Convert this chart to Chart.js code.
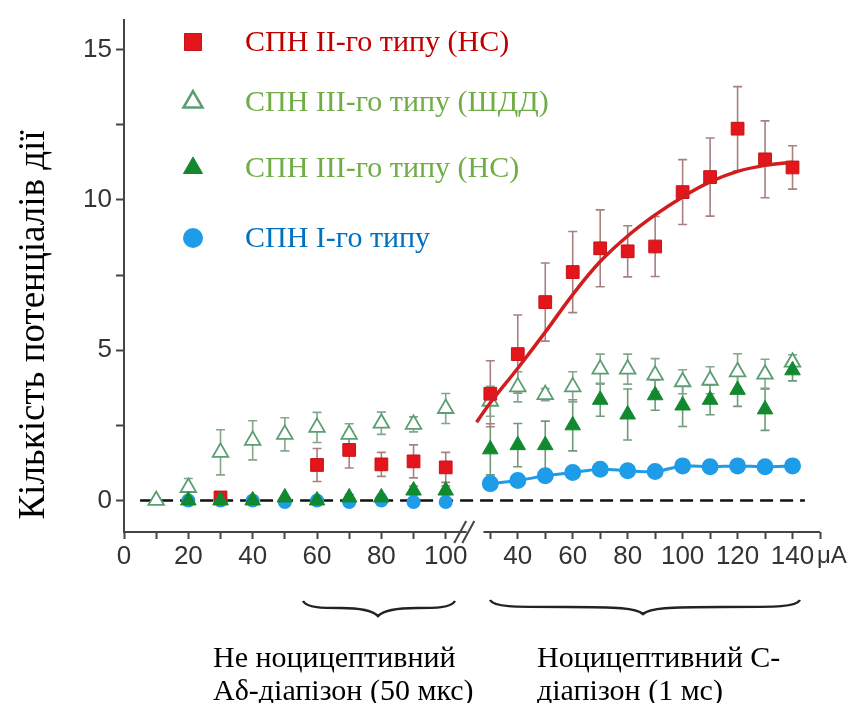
<!DOCTYPE html>
<html lang="uk">
<head>
  <meta charset="UTF-8" />
  <title>СПН</title>
  <script src="https://cdn.jsdelivr.net/npm/chart.js"></script>
  <style>
    html, body { margin: 0; padding: 0; background: #fff; }
    #wrap { width: 851px; height: 703px; position: relative; }
  </style>
</head>
<body>
  <div id="wrap"><canvas id="grafica"></canvas></div>

  <script>
    // Струм стимулу (µA): Aδ-діапазон (50 мкс) та C-діапазон (1 мс)
    const xA = [10, 20, 30, 40, 50, 60, 70, 80, 90, 100];
    const xC = [30, 40, 50, 60, 70, 80, 90, 100, 110, 120, 130, 140];

    // СПН II-го типу (НС)
    const redA    = [null, null, 0.1, null, null, 1.18, 1.68, 1.2, 1.3, 1.1];
    const redAErr = [null, null, 0, null, null, 0.55, 0.6, 0.4, 0.55, 0.5];
    const redC    = [3.55, 4.87, 6.6, 7.6, 8.39, 8.29, 8.45, 10.26, 10.76, 12.37, 11.35, 11.08];
    const redCErr = [1.1, 1.3, 1.3, 1.35, 1.28, 0.85, 1.0, 1.08, 1.3, 1.4, 1.28, 0.72];

    // апроксимація для СПН II-го типу (зчитано з кривої)
    const fitX = [25, 30, 40, 50, 60, 70, 80, 90, 100, 110, 120, 130, 140];
    const fitY = [2.6, 3.25, 4.4, 5.6, 6.85, 7.95, 8.8, 9.5, 10.1, 10.6, 10.95, 11.15, 11.25];

    // СПН III-го типу (ШДД)
    const openA    = [0, 0.43, 1.6, 2.0, 2.2, 2.43, 2.2, 2.57, 2.53, 3.06];
    const openAErr = [0, 0.3, 0.75, 0.65, 0.55, 0.5, 0.35, 0.37, 0.25, 0.5];
    const openC    = [3.3, 3.78, 3.52, 3.78, 4.37, 4.37, 4.17, 3.95, 4.0, 4.28, 4.2, 4.6];
    const openCErr = [0.5, 0.5, 0.2, 0.5, 0.5, 0.5, 0.55, 0.4, 0.45, 0.6, 0.5, 0.25];

    // СПН III-го типу (НС)
    const fillA    = [null, 0, 0, 0, 0.1, 0, 0.1, 0.1, 0.33, 0.33];
    const fillAErr = [null, 0, 0, 0, 0, 0, 0.1, 0.1, 0.15, 0.15];
    const fillC    = [1.7, 1.84, 1.84, 2.5, 3.35, 2.86, 3.5, 3.16, 3.35, 3.68, 3.03, 4.33];
    const fillCErr = [0.85, 0.72, 0.8, 0.85, 0.55, 0.85, 0.5, 0.7, 0.5, 0.55, 0.7, 0.35];

    // СПН I-го типу
    const blueA = [null, 0, 0, 0, -0.05, 0, -0.05, 0, -0.05, -0.05];
    const blueC = [0.56, 0.66, 0.82, 0.93, 1.04, 0.99, 0.96, 1.15, 1.12, 1.15, 1.12, 1.15];

    // підписи осей
    const yTicks = [0, 2.5, 5, 7.5, 10, 12.5, 15];
    const xTicksA = [0, 10, 20, 30, 40, 50, 60, 70, 80, 90, 100];
    const xTicksC = [30, 40, 50, 60, 70, 80, 90, 100, 110, 120, 130, 140, 150];
    const xLabelsA = [0, 20, 40, 60, 80, 100];
    const xLabelsC = [40, 60, 80, 100, 120, 140];

    const legendItems = [
      { text: 'СПН II-го типу (НС)', color: '#c00000' },
      { text: 'СПН III-го типу (ШДД)', color: '#70ad47' },
      { text: 'СПН III-го типу (НС)', color: '#70ad47' },
      { text: 'СПН I-го типу', color: '#0070c0' }
    ];

    // розрив осі: обидва діапазони на одній шкалі
    function posA(x) { return x; }
    function posC(x) { return 122.4 + (x - 40) * 0.854; }

    function pts(xs, ys, pos) {
      const out = [];
      xs.forEach((x, i) => { if (ys[i] !== null) out.push({ x: pos(x), y: ys[i] }); });
      return out;
    }

    const xTickList = [];
    xTicksA.forEach(v => xTickList.push({ value: posA(v), label: xLabelsA.includes(v) ? String(v) : '' }));
    xTicksC.forEach(v => xTickList.push({ value: posC(v), label: xLabelsC.includes(v) ? String(v) : '' }));

    const cRed = '#e3161c', cOpen = '#5a9e72', cFill = '#12892f', cBlue = '#1e9ce8';

    const datasets = [
      { label: 'fit', data: pts(fitX, fitY, posC), showLine: true, pointRadius: 0,
        borderColor: '#d01e1e', borderWidth: 3.5, tension: 0.4 },
      { data: pts(xA, fillA, posA), err: fillAErr, errColor: '#6f9a7a',
        pointStyle: 'triangle', pointRadius: 9, backgroundColor: cFill, borderColor: cFill, borderWidth: 1 },
      { data: pts(xC, fillC, posC), err: fillCErr, errColor: '#6f9a7a',
        pointStyle: 'triangle', pointRadius: 9, backgroundColor: cFill, borderColor: cFill, borderWidth: 1 },
      { data: pts(xA, redA, posA), err: redAErr, errColor: '#a88080',
        pointStyle: 'rect', pointRadius: 9, backgroundColor: cRed, borderColor: '#c81018', borderWidth: 1 },
      { data: pts(xC, redC, posC), err: redCErr, errColor: '#a88080',
        pointStyle: 'rect', pointRadius: 9, backgroundColor: cRed, borderColor: '#c81018', borderWidth: 1 },
      { data: pts(xA, openA, posA), err: openAErr, errColor: '#85a58e',
        pointStyle: 'triangle', pointRadius: 9, backgroundColor: '#ffffff', borderColor: cOpen, borderWidth: 1.8 },
      { data: pts(xC, openC, posC), err: openCErr, errColor: '#85a58e',
        pointStyle: 'triangle', pointRadius: 9, backgroundColor: '#ffffff', borderColor: cOpen, borderWidth: 1.8 },
      { data: pts(xA, blueA, posA), pointStyle: 'circle', pointRadius: 7,
        backgroundColor: cBlue, borderColor: cBlue, borderWidth: 0 },
      { data: pts(xC, blueC, posC), showLine: true, tension: 0.3, pointStyle: 'circle', pointRadius: 7,
        backgroundColor: cBlue, borderColor: cBlue, borderWidth: 3 },
      { data: [{ x: posA(5), y: 0 }, { x: posC(144.5), y: 0 }], showLine: true, pointRadius: 0,
        borderColor: '#111', borderWidth: 2.5, borderDash: [13, 7] }
    ];

    const errorBars = {
      id: 'errorBars',
      beforeDatasetsDraw(chart) {
        const ctx = chart.ctx, xs = chart.scales.x, ys = chart.scales.y;
        ctx.save();
        chart.data.datasets.forEach(ds => {
          if (!ds.err) return;
          const errs = ds.err.filter(e => e !== null);
          ctx.strokeStyle = ds.errColor;
          ctx.lineWidth = 1.6;
          ds.data.forEach((p, i) => {
            const e = errs[i];
            if (!e) return;
            const px = xs.getPixelForValue(p.x);
            const top = ys.getPixelForValue(p.y + e), bot = ys.getPixelForValue(p.y - e);
            ctx.beginPath();
            ctx.moveTo(px, top); ctx.lineTo(px, bot);
            ctx.moveTo(px - 4.5, top); ctx.lineTo(px + 4.5, top);
            ctx.moveTo(px - 4.5, bot); ctx.lineTo(px + 4.5, bot);
            ctx.stroke();
          });
        });
        ctx.restore();
      }
    };

    function brace(ctx, x1, x2, y0, tipX, tipY) {
      const mid = y0 + 7;
      ctx.beginPath();
      ctx.moveTo(x1, y0);
      ctx.bezierCurveTo(x1 + 4, y0 + 7, x1 + 20, mid, (x1 + tipX) / 2, mid);
      ctx.bezierCurveTo(tipX - 25, mid, tipX - 7, mid + 1, tipX, tipY);
      ctx.bezierCurveTo(tipX + 7, mid + 1, tipX + 25, mid, (tipX + x2) / 2, mid);
      ctx.bezierCurveTo(x2 - 20, mid, x2 - 4, y0 + 7, x2, y0);
      ctx.stroke();
    }

    const extras = {
      id: 'extras',
      afterDraw(chart) {
        const ctx = chart.ctx, xs = chart.scales.x;
        const yb = chart.chartArea.bottom;
        ctx.save();

        // вісь X з розривом
        ctx.strokeStyle = '#444';
        ctx.lineWidth = 2;
        ctx.beginPath();
        ctx.moveTo(xs.getPixelForValue(0) - 1, yb);
        ctx.lineTo(xs.getPixelForValue(posA(106.5)), yb);
        ctx.moveTo(xs.getPixelForValue(posC(27.5)), yb);
        ctx.lineTo(xs.getPixelForValue(posC(150)), yb);
        ctx.stroke();
        [posA(104.5), posC(22)].forEach(p => {
          const px = xs.getPixelForValue(p);
          ctx.beginPath();
          ctx.moveTo(px - 6, yb + 11);
          ctx.lineTo(px + 6, yb - 11);
          ctx.stroke();
        });

        ctx.fillStyle = '#333';
        ctx.font = '24px "Liberation Sans", Arial, sans-serif';
        ctx.textAlign = 'left';
        ctx.textBaseline = 'middle';
        ctx.fillText('μA', 817, 556);

        // назва осі Y
        ctx.fillStyle = '#000';
        ctx.font = '37px "Liberation Serif", "Times New Roman", serif';
        ctx.translate(34, 325);
        ctx.rotate(-Math.PI / 2);
        ctx.textAlign = 'center';
        ctx.fillText('Кількість потенціалів дії', 0, 0);
        ctx.setTransform(1, 0, 0, 1, 0, 0);

        // легенда
        const mk = [
          { style: 'rect', r: 12, fill: cRed, stroke: '#c81018', w: 1 },
          { style: 'triangle', r: 11, fill: '#fff', stroke: cOpen, w: 2.5 },
          { style: 'triangle', r: 11, fill: cFill, stroke: cFill, w: 1 },
          { style: 'circle', r: 10, fill: cBlue, stroke: cBlue, w: 0 }
        ];
        const rows = [42, 102, 168, 238];
        ctx.font = '30px "Liberation Serif", "Times New Roman", serif';
        ctx.textAlign = 'left';
        ctx.textBaseline = 'middle';
        legendItems.forEach((it, i) => {
          ctx.fillStyle = mk[i].fill;
          ctx.strokeStyle = mk[i].stroke;
          ctx.lineWidth = mk[i].w;
          Chart.helpers.drawPoint(ctx, { pointStyle: mk[i].style, radius: mk[i].r, borderWidth: mk[i].w, rotation: 0 }, 193, rows[i]);
          ctx.fillStyle = it.color;
          ctx.fillText(it.text, 245, rows[i] + 1);
        });

        // фігурні дужки
        ctx.strokeStyle = '#222';
        ctx.lineWidth = 2.5;
        brace(ctx, 303, 455, 601, 378, 616);
        brace(ctx, 490, 800, 600, 643, 614);

        // підписи діапазонів
        ctx.fillStyle = '#000';
        ctx.font = '30px "Liberation Serif", "Times New Roman", serif';
        ctx.textBaseline = 'alphabetic';
        ctx.fillText('Не ноцицептивний', 213, 667);
        ctx.fillText('Аδ-діапізон (50 мкс)', 213, 700);
        ctx.fillText('Ноцицептивний С-', 537, 667);
        ctx.fillText('діапізон (1 мс)', 537, 700);

        ctx.restore();
      }
    };

    const config = {
      type: 'scatter',
      data: { datasets: datasets },
      options: {
        responsive: true,
        maintainAspectRatio: false,
        animation: false,
        layout: { padding: { top: 14, right: 31, left: 0, bottom: 0 } },
        plugins: { legend: { display: false }, tooltip: { enabled: false } },
        scales: {
          x: {
            type: 'linear',
            min: 0,
            max: posC(150),
            afterFit: s => { s.height = 171; },
            afterBuildTicks: s => { s.ticks = xTickList.map(t => ({ value: t.value })); },
            border: { display: false },
            grid: { drawOnChartArea: false, tickLength: 7, tickWidth: 2, color: '#444' },
            ticks: {
              autoSkip: false, maxRotation: 0, padding: 2, color: '#333',
              font: { family: '"Liberation Sans", Arial, sans-serif', size: 26 },
              callback: (v, i) => xTickList[i] ? xTickList[i].label : ''
            }
          },
          y: {
            type: 'linear',
            min: -1.05,
            max: 16,
            afterFit: s => { s.width = 124; },
            afterBuildTicks: s => { s.ticks = yTicks.map(v => ({ value: v })); },
            border: { display: true, color: '#444', width: 2 },
            grid: { drawOnChartArea: false, tickLength: 8, tickWidth: 2, color: '#444' },
            ticks: {
              padding: 4, color: '#333',
              font: { family: '"Liberation Sans", Arial, sans-serif', size: 26 },
              callback: v => (v % 5 === 0 ? String(v) : '')
            }
          }
        }
      },
      plugins: [errorBars, extras]
    };

    const ctx = document.getElementById('grafica').getContext('2d');
    window.miGrafica = new Chart(ctx, config);
  </script>
</body>
</html>
